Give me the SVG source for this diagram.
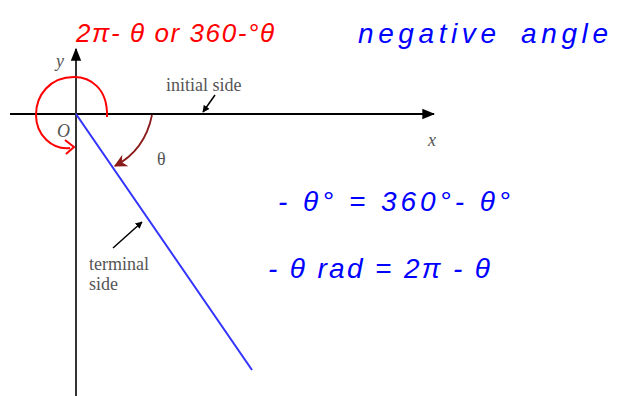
<svg xmlns="http://www.w3.org/2000/svg" width="618" height="396" viewBox="0 0 618 396">
<defs>
<marker id="blk" viewBox="0 0 10 10" refX="9" refY="5" markerWidth="7" markerHeight="7" orient="auto" markerUnits="userSpaceOnUse"><path d="M0,0 L10,5 L0,10 z" fill="#000"/></marker>
<marker id="axarr" viewBox="0 0 10 10" refX="9" refY="5" markerWidth="13" markerHeight="13" orient="auto" markerUnits="userSpaceOnUse"><path d="M0,1 L10,5 L0,9 z" fill="#000"/></marker>
<marker id="brn" viewBox="0 0 10 10" refX="9" refY="5" markerWidth="13" markerHeight="13" orient="auto" markerUnits="userSpaceOnUse"><path d="M0,0 L10,5 L0,10 L3,5 z" fill="#8b1a1a"/></marker>
</defs>
<style>
.lbl{font-family:"Liberation Sans",serif;fill:#555;font-size:18px}
.lbl{font-family:"Liberation Serif",serif}
.it{font-style:italic}
.hw-red{font-family:"Liberation Sans",sans-serif;font-style:italic;fill:#f00;font-size:26px}
.hw-blue{font-family:"Liberation Sans",sans-serif;font-style:italic;fill:#00f;font-size:28px}
.ax{stroke:#000;stroke-width:2;fill:none}
</style>
<rect width="618" height="396" fill="#fff"/>
<g id="connectors">
<line id="x-axis" class="ax" x1="10" y1="114" x2="434" y2="114" marker-end="url(#axarr)"/>
<line id="y-axis" x1="76" y1="396" x2="76" y2="49" stroke="#333" stroke-width="2" marker-end="url(#axarr)"/>
<line id="terminal" x1="76" y1="114" x2="252" y2="370" stroke="#3333ff" stroke-width="2"/>
<line x1="215" y1="95" x2="203" y2="112" stroke="#000" stroke-width="1.5" marker-end="url(#blk)"/>
<line x1="113" y1="248" x2="142" y2="222" stroke="#000" stroke-width="1.5" marker-end="url(#blk)"/>
<path d="M152,115 Q145,150 115,166" fill="none" stroke="#8b1a1a" stroke-width="1.8" marker-end="url(#brn)"/>
<path d="M107,117 C108,88 90,77 74,77 C50,77 36,95 36,115 C36,135 52,150 70,148" fill="none" stroke="#f00" stroke-width="2"/>
<path d="M65,140 L74,147 L66,154" fill="none" stroke="#f00" stroke-width="2"/>
</g>
<g id="labels">
<text class="lbl it" x="56" y="67">y</text>
<text class="lbl it" x="57" y="137">O</text>
<text class="lbl it" x="428" y="146">x</text>
<text class="lbl" x="166" y="91">initial side</text>
<text class="lbl" x="157" y="165">θ</text>
<text class="lbl" x="89" y="270">terminal</text>
<text class="lbl" x="89" y="290">side</text>
</g>
<g id="notes">
<text class="hw-red" x="76" y="42" textLength="198" lengthAdjust="spacing">2π- θ or 360-°θ</text>
<text class="hw-blue" x="358" y="43" font-size="32" textLength="138" lengthAdjust="spacing">negative</text>
<text class="hw-blue" x="521" y="43" font-size="32" textLength="87" lengthAdjust="spacing">angle</text>
<text class="hw-blue" x="278" y="211" textLength="232" lengthAdjust="spacing">- θ° = 360°- θ°</text>
<text class="hw-blue" x="268" y="278" textLength="222" lengthAdjust="spacing">- θ rad = 2π - θ</text>
</g>
</svg>
